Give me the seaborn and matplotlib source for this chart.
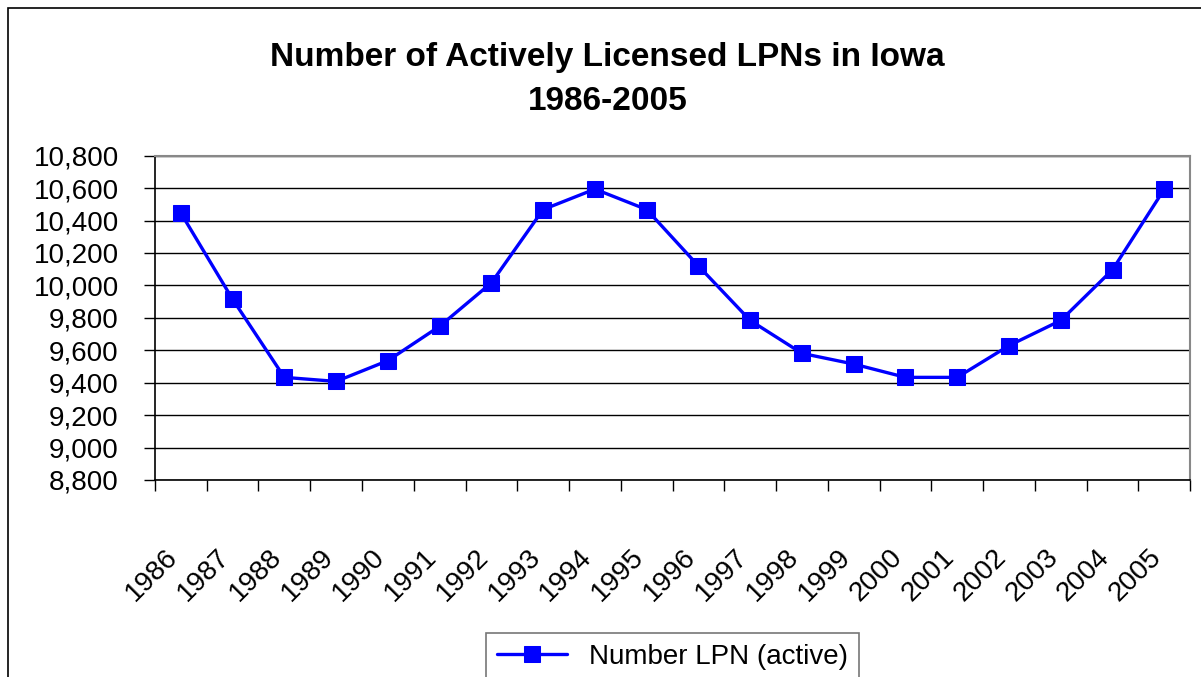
import pandas as pd
import seaborn as sns
import matplotlib.pyplot as plt
import matplotlib.transforms as mtransforms
from matplotlib.patches import Rectangle

# Values
years = ["1986", "1987", "1988", "1989", "1990", "1991", "1992", "1993", "1994", "1995",
         "1996", "1997", "1998", "1999", "2000", "2001", "2002", "2003", "2004", "2005"]
lpn_active = [10447, 9915, 9433, 9408, 9536, 9748, 10016, 10468, 10594, 10468,
              10120, 9784, 9581, 9515, 9433, 9433, 9629, 9784, 10097, 10594]
y_ticks = [8800, 9000, 9200, 9400, 9600, 9800, 10000, 10200, 10400, 10600, 10800]

df = pd.DataFrame({"pos": range(len(years)), "LPN": lpn_active})

sns.set_style("white")
plt.rcParams['font.family'] = ['Liberation Sans', 'DejaVu Sans']
plt.rcParams['text.color'] = 'black'
plt.rcParams['xtick.color'] = 'black'
plt.rcParams['ytick.color'] = 'black'

fig = plt.figure(figsize=(12.01, 6.77), dpi=100)
ax = fig.add_axes([0.129, 0.291, 0.862, 0.479])

sns.lineplot(data=df, x="pos", y="LPN", ax=ax, color="#0000ff", linewidth=2.4,
             marker="s", markersize=12, markeredgecolor="#0000ff",
             label="Number LPN (active)")

ax.set_xlim(-0.5, len(years) - 0.5)
ax.set_ylim(8800, 10800)
ax.set_yticks(y_ticks)
ax.set_yticklabels([f"{v:,}" for v in y_ticks], fontsize=20)
ax.yaxis.grid(True, color="black", linewidth=1)
ax.set_axisbelow(True)

ax.set_xticks(range(len(years)))
ax.set_xticklabels(years, rotation=45, ha="right", rotation_mode="anchor", fontsize=20)
ax.set_xticks([i - 0.5 for i in range(len(years) + 1)], minor=True)
ax.tick_params(axis="x", which="major", length=0, pad=46, bottom=True)
ax.tick_params(axis="x", which="minor", length=8, width=1, color="black", direction="out", bottom=True)
ax.tick_params(axis="y", length=8, width=1, color="black", direction="out", left=True, pad=18)
ax.set_xlabel("")
ax.set_ylabel("")

# nudge the rotated year labels to the left like the original
shift = mtransforms.ScaledTranslation(-16 / 100, 0, fig.dpi_scale_trans)
for lab in ax.get_xticklabels():
    lab.set_transform(lab.get_transform() + shift)

for side in ["left", "bottom"]:
    ax.spines[side].set_color("black")
    ax.spines[side].set_linewidth(1.2)
for side in ["top", "right"]:
    ax.spines[side].set_color("#888888")
    ax.spines[side].set_linewidth(1.5)

fig.text(0.506, 0.915, "Number of Actively Licensed LPNs in Iowa", ha="center", va="center",
         fontsize=24, fontweight="bold")
fig.text(0.506, 0.85, "1986-2005", ha="center", va="center", fontsize=24, fontweight="bold")

leg = ax.legend(loc="center", bbox_to_anchor=(0.5, -0.545), fontsize=20, frameon=True,
                fancybox=False, edgecolor="#555555", handlelength=2.5, borderpad=0.4)
leg.get_frame().set_linewidth(1.2)

fig.patches.append(Rectangle((0.007, -0.01), 1.1, 0.998, transform=fig.transFigure,
                             fill=False, edgecolor="black", linewidth=1.2))

fig.savefig("out.png", dpi=100)
